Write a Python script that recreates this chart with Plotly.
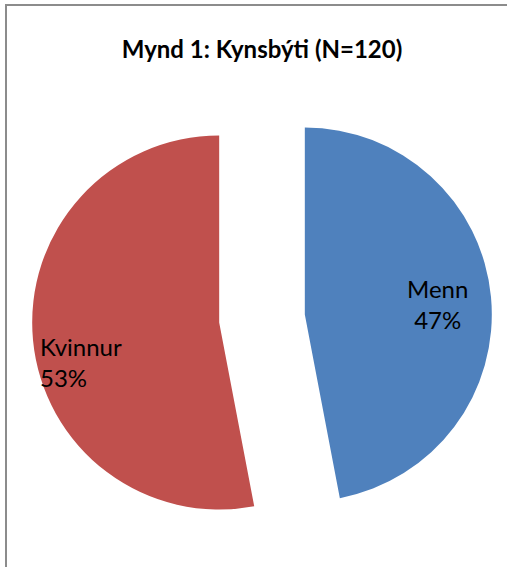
import plotly.graph_objects as go

labels = ["Menn", "Kvinnur"]
values = [47, 53]
colors = ["#4F81BD", "#C0504D"]
title_text = "Mynd 1: Kynsbýti (N=120)"

W, H = 507, 567
cx, cy, span = 262, 318.5, 460

# label placement (pixels: x, y-center, anchor)
label_pos = {"Menn": (437, 304, "center"), "Kvinnur": (38, 362, "left")}

total = sum(values)
annotations = []
for lab, val in zip(labels, values):
    x, y, anc = label_pos[lab]
    annotations.append(dict(
        text=f"{lab}<br>{round(100 * val / total)}%",
        x=x / W, y=1 - y / H, xref="paper", yref="paper",
        xanchor=anc, yanchor="middle", align=anc, showarrow=False,
        font=dict(family="Lato", size=24, color="black"),
    ))

fig = go.Figure(go.Pie(
    labels=labels,
    values=values,
    sort=False,
    direction="clockwise",
    rotation=0,
    pull=[0.23, 0.23],
    marker=dict(colors=colors, line=dict(width=0)),
    textinfo="none",
    hoverinfo="skip",
    domain=dict(x=[(cx - span / 2) / W, (cx + span / 2) / W],
                y=[1 - (cy + span / 2) / H, 1 - (cy - span / 2) / H]),
))

border = dict(color="#8c8c8c", width=2)
fig.update_layout(
    width=W, height=H,
    margin=dict(l=0, r=0, t=0, b=0),
    paper_bgcolor="white",
    showlegend=False,
    title=dict(text=f"<b>{title_text}</b>", x=262 / W, xanchor="center",
               y=1 - 50 / H, yanchor="middle",
               font=dict(family="Lato", size=24, color="black")),
    annotations=annotations,
    shapes=[
        dict(type="line", xref="paper", yref="paper",
             x0=6 / W, x1=6 / W, y0=0, y1=1 - 4 / H, line=border),
        dict(type="line", xref="paper", yref="paper",
             x0=5 / W, x1=1, y0=1 - 5 / H, y1=1 - 5 / H, line=border),
    ],
)

fig.write_html("out.html", config={"displayModeBar": False},
               post_script=("document.body.style.margin='0';"
                            "document.body.style.overflow='hidden';"
                            "document.documentElement.style.overflow='hidden';"))
